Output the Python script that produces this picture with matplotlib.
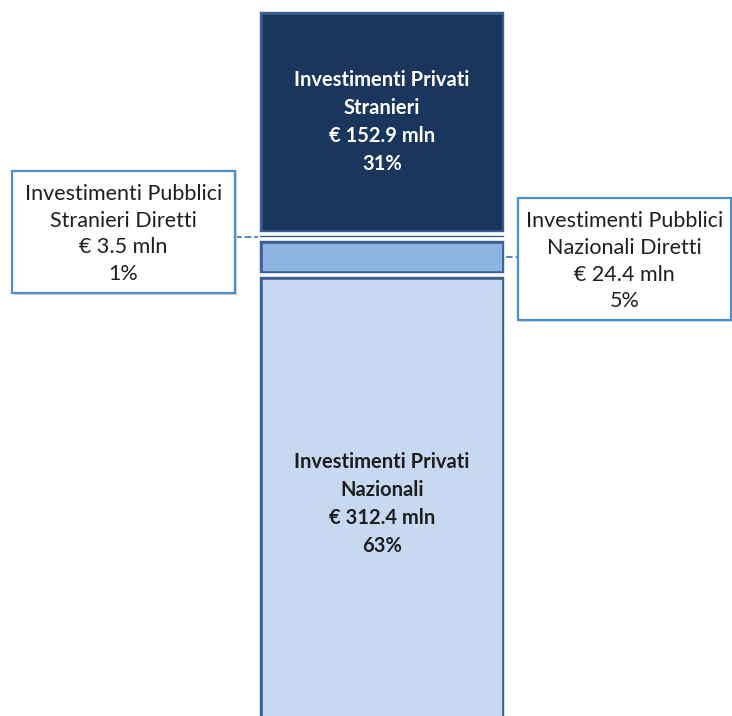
import matplotlib
matplotlib.use("Agg")
import matplotlib.pyplot as plt
from matplotlib.patches import Rectangle

plt.rcParams['font.family'] = ['Lato', 'DejaVu Sans']

# Segments of the stacked bar, from bottom to top
labels = [
    "Investimenti Privati\nNazionali",
    "Investimenti Pubblici\nNazionali Diretti",
    "Investimenti Pubblici\nStranieri Diretti",
    "Investimenti Privati\nStranieri",
]
values = [312.4, 24.4, 3.5, 152.9]
shares = ["63%", "5%", "1%", "31%"]
colors = ["#c6d9f1", "#8db3e2", "#6f97cf", "#1b365d"]

# which segments are labelled inside the bar, which in a callout box
inside = [True, False, False, True]
text_colors = ["#1e1e1e", "#1e1e1e", "#1e1e1e", "#ffffff"]

fig = plt.figure(figsize=(7.32, 7.16), dpi=100)
ax = fig.add_axes([0, 0, 1, 1])
ax.set_xlim(-1.54, 1.41)
ax.set_ylim(12, 500)
ax.axis("off")

bottoms = []
acc = 0
for v in values:
    bottoms.append(acc)
    acc += v

# dark border first, then a white stroke on top to open the gaps;
# both strokes are clipped to the segment so they only show inside it
dark = ax.bar(0, values, width=1, bottom=bottoms, color=colors,
              edgecolor="#3b5f8f", linewidth=6.2)
white = ax.bar(0, values, width=1, bottom=bottoms, color="none",
               edgecolor="white", linewidth=2.6)
for pd, pw in zip(dark.patches, white.patches):
    pd.set_clip_path(pd)
    pw.set_clip_path(pd)

for lab, v, b, s, tc, ins in zip(labels, values, bottoms, shares, text_colors, inside):
    if ins:
        ax.text(0, b + v / 2, f"{lab}\n€ {v} mln\n{s}", ha="center", va="center",
                color=tc, fontsize=14.5, fontweight="bold", linespacing=1.5)

# callout boxes (axes fraction) for the two small segments
boxes = {
    2: dict(x0=0.016, y0=0.591, w=0.305, h=0.170, side="left"),
    1: dict(x0=0.708, y0=0.553, w=0.290, h=0.170, side="right"),
}
for i, bx in boxes.items():
    shadow = Rectangle((bx["x0"] + 0.003, bx["y0"] - 0.003), bx["w"], bx["h"],
                       transform=ax.transAxes, facecolor="#d6d6d6",
                       edgecolor="none", zorder=3)
    ax.add_patch(shadow)
    rect = Rectangle((bx["x0"], bx["y0"]), bx["w"], bx["h"], transform=ax.transAxes,
                     facecolor="white", edgecolor="#4a8fd6", linewidth=1.6, zorder=4)
    ax.add_patch(rect)
    cx = bx["x0"] + bx["w"] / 2
    cy = bx["y0"] + bx["h"] / 2 - 0.003
    ax.text(cx, cy, f"{labels[i]}\n€ {values[i]} mln\n{shares[i]}",
            transform=ax.transAxes, ha="center", va="center", fontsize=15.5,
            color=text_colors[i], linespacing=1.42, zorder=5)
    # dashed leader from box edge to bar edge at the segment middle
    ymid = bottoms[i] + values[i] / 2
    if bx["side"] == "left":
        xa = ax.transData.inverted().transform(ax.transAxes.transform((bx["x0"] + bx["w"], 0)))[0]
        ax.plot([xa, -0.5], [ymid, ymid], ls="--", color="#4a7fbf", lw=1.3, zorder=2)
    else:
        xa = ax.transData.inverted().transform(ax.transAxes.transform((bx["x0"], 0)))[0]
        ax.plot([0.5, xa], [ymid, ymid], ls="--", color="#4a7fbf", lw=1.3, zorder=2)

fig.savefig("out.png", dpi=100)
